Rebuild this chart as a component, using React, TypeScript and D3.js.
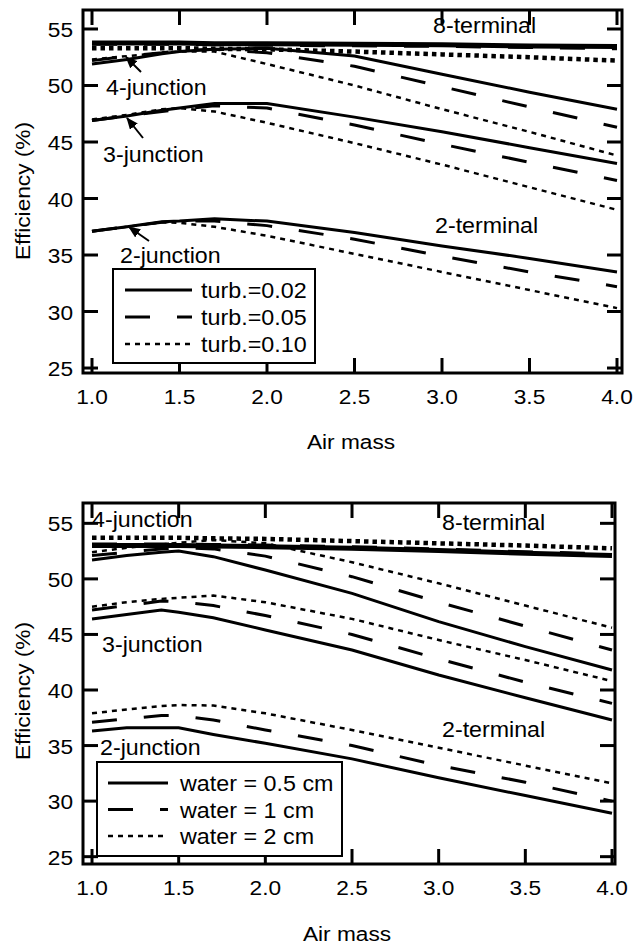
import React from "react";
import * as d3 from "d3";

// air mass grid shared by all curves
const airMass = [1.0, 1.2, 1.4, 1.5, 1.7, 2.0, 2.5, 3.0, 3.5, 4.0];

// upper panel: turbidity
const j2Turb002 = [37.1, 37.5, 37.95, 38.0, 38.2, 38.0, 37.0, 35.8, 34.7, 33.5];
const j2Turb005 = [37.1, 37.5, 37.9, 38.0, 38.0, 37.6, 36.4, 34.9, 33.5, 32.2];
const j2Turb010 = [37.1, 37.5, 37.9, 37.85, 37.5, 36.7, 35.1, 33.5, 31.9, 30.3];
const j3Turb002 = [46.9, 47.3, 47.8, 48.0, 48.4, 48.4, 47.2, 45.9, 44.5, 43.1];
const j3Turb005 = [46.9, 47.3, 47.7, 47.9, 48.2, 48.0, 46.5, 44.8, 43.2, 41.6];
const j3Turb010 = [47.0, 47.4, 47.9, 48.0, 47.7, 46.7, 44.9, 43.0, 41.0, 39.0];
const j4Turb002 = [51.9, 52.3, 52.8, 53.0, 53.2, 53.3, 52.6, 51.0, 49.4, 47.9];
const j4Turb005 = [52.2, 52.6, 52.9, 53.1, 53.2, 52.9, 51.7, 49.9, 48.1, 46.3];
const j4Turb010 = [52.3, 52.6, 52.9, 53.0, 53.0, 51.9, 50.0, 47.9, 45.9, 43.8];
const t8Turb002 = [53.75, 53.75, 53.75, 53.75, 53.7, 53.7, 53.65, 53.6, 53.5, 53.45];
const t8Turb005 = [53.7, 53.7, 53.7, 53.7, 53.65, 53.6, 53.55, 53.5, 53.4, 53.3];
const t8Turb010 = [53.3, 53.3, 53.3, 53.3, 53.25, 53.2, 53.0, 52.75, 52.5, 52.2];

// lower panel: precipitable water
const j2Water05 = [36.3, 36.6, 36.6, 36.6, 36.0, 35.2, 33.8, 32.1, 30.5, 28.9];
const j2Water1 = [37.1, 37.4, 37.7, 37.7, 37.3, 36.4, 35.0, 33.2, 31.7, 30.0];
const j2Water2 = [37.9, 38.25, 38.55, 38.65, 38.6, 37.9, 36.4, 34.8, 33.2, 31.6];
const j3Water05 = [46.4, 46.8, 47.2, 47.0, 46.5, 45.4, 43.6, 41.35, 39.3, 37.3];
const j3Water1 = [47.2, 47.6, 48.0, 47.95, 47.6, 46.7, 45.0, 42.8, 40.7, 38.8];
const j3Water2 = [47.5, 47.9, 48.2, 48.3, 48.5, 47.9, 46.4, 44.5, 42.7, 40.8];
const j4Water05 = [51.7, 52.1, 52.4, 52.5, 52.0, 50.8, 48.7, 46.15, 43.9, 41.8];
const j4Water1 = [52.1, 52.4, 52.7, 52.8, 52.7, 52.05, 50.2, 47.9, 45.75, 43.6];
const j4Water2 = [52.4, 52.8, 53.1, 53.25, 53.5, 53.2, 51.5, 49.6, 47.6, 45.6];
const t8Water05 = [53.0, 53.0, 53.0, 53.0, 52.95, 52.9, 52.75, 52.55, 52.3, 52.1];
const t8Water1 = [53.1, 53.1, 53.1, 53.1, 53.05, 53.0, 52.85, 52.65, 52.4, 52.2];
const t8Water2 = [53.7, 53.7, 53.7, 53.7, 53.65, 53.6, 53.4, 53.2, 53.0, 52.75];

const xTicks = [1.0, 1.5, 2.0, 2.5, 3.0, 3.5, 4.0];
const yTicks = [25, 30, 35, 40, 45, 50, 55];
const turbLabels = ["turb.=0.02", "turb.=0.05", "turb.=0.10"];
const waterLabels = ["water = 0.5 cm", "water = 1 cm", "water = 2 cm"];

const FONT = "'Liberation Sans', Arial, Helvetica, sans-serif";
const DASH = ["none", "25 27", "5 5"];
const WIDTH = [3, 3, 2.5];

function T({ x, y, size = 21, anchor = "start", rotate = 0, sx = 1.08, children }) {
  return (
    <text
      transform={`translate(${x},${y}) rotate(${rotate}) scale(${sx},1)`}
      fontFamily={FONT}
      fontSize={size}
      textAnchor={anchor}
      fill="#000"
    >
      {children}
    </text>
  );
}

function Panel({ frame, xDomain, yDomain, groups, thick, labels, arrows, legend, legendLabels, tickLabelY, titleY, titleX, yTitleY }) {
  const x = d3.scaleLinear().domain(xDomain).range([frame.left, frame.right]);
  const y = d3.scaleLinear().domain(yDomain).range([frame.bottom, frame.top]);
  const line = d3
    .line<number>()
    .x((d, i) => x(airMass[i]))
    .y((d) => y(d));
  const tick = 15;

  return (
    <g>
      {groups.map((g, gi) =>
        g.map((vals, k) => (
          <path
            key={`c${gi}-${k}`}
            d={line(vals) || ""}
            fill="none"
            stroke="#000"
            strokeWidth={WIDTH[k]}
            strokeDasharray={DASH[k]}
          />
        ))
      )}
      {/* 8-terminal: thick lines, dotted first, solid on top */}
      <path d={line(thick[2]) || ""} fill="none" stroke="#000" strokeWidth={4.5} strokeDasharray="4.5 4" />
      <path d={line(thick[1]) || ""} fill="none" stroke="#000" strokeWidth={4} strokeDasharray="25 27" />
      <path d={line(thick[0]) || ""} fill="none" stroke="#000" strokeWidth={5} />

      {labels.map((l, i) => (
        <g key={`l${i}`}>
          {l.bg && <rect x={l.x - 2} y={l.y - 17} width={l.bg} height={22} fill="#fff" />}
          <T x={l.x} y={l.y} size={21.5}>
            {l.text}
          </T>
        </g>
      ))}
      {arrows.map((a, i) => (
        <line
          key={`a${i}`}
          x1={a[0]}
          y1={a[1]}
          x2={a[2]}
          y2={a[3]}
          stroke="#000"
          strokeWidth={2}
          markerEnd="url(#head)"
        />
      ))}

      {/* frame and inward ticks on all sides */}
      <rect
        x={frame.left}
        y={frame.top}
        width={frame.right - frame.left}
        height={frame.bottom - frame.top}
        fill="none"
        stroke="#000"
        strokeWidth={3}
      />
      {xTicks.map((t) => (
        <g key={`xt${t}`}>
          <line x1={x(t)} x2={x(t)} y1={frame.bottom} y2={frame.bottom - tick} stroke="#000" strokeWidth={3} />
          <line x1={x(t)} x2={x(t)} y1={frame.top} y2={frame.top + tick} stroke="#000" strokeWidth={3} />
          <T x={x(t)} y={tickLabelY} anchor="middle">
            {d3.format(".1f")(t)}
          </T>
        </g>
      ))}
      {yTicks.map((t) => (
        <g key={`yt${t}`}>
          <line x1={frame.left} x2={frame.left + tick} y1={y(t)} y2={y(t)} stroke="#000" strokeWidth={3} />
          <line x1={frame.right} x2={frame.right - tick} y1={y(t)} y2={y(t)} stroke="#000" strokeWidth={3} />
          <T x={73} y={y(t) + 8} anchor="end">
            {t}
          </T>
        </g>
      ))}

      {/* legend */}
      <rect
        x={legend.x}
        y={legend.y}
        width={legend.w}
        height={legend.h}
        fill="#fff"
        stroke="#000"
        strokeWidth={2}
      />
      {legendLabels.map((lab, k) => {
        const ry = legend.y + legend.row0 + k * legend.step;
        return (
          <g key={`lg${k}`}>
            <line
              x1={legend.x + legend.s0}
              x2={legend.x + legend.s1}
              y1={ry}
              y2={ry}
              stroke="#000"
              strokeWidth={WIDTH[k]}
              strokeDasharray={DASH[k]}
            />
            <T x={legend.x + legend.tx} y={ry + 8} size={22} sx={1.06}>
              {lab}
            </T>
          </g>
        );
      })}

      <T x={titleX} y={titleY} anchor="middle">
        Air mass
      </T>
      <T x={30} y={yTitleY} anchor="middle" rotate={-90}>
        Efficiency (%)
      </T>
    </g>
  );
}

export default function App() {
  return (
    <svg
      width={641}
      height={946}
      style={{ position: "absolute", left: 0, top: 0, background: "#fff" }}
    >
      <defs>
        <marker
          id="head"
          markerUnits="userSpaceOnUse"
          viewBox="0 0 12 10"
          refX={11}
          refY={5}
          markerWidth={12}
          markerHeight={10}
          orient="auto"
        >
          <path d="M0,0 L12,5 L0,10 z" fill="#000" />
        </marker>
      </defs>
      <rect width={641} height={946} fill="#fff" />
      <Panel
        frame={{ left: 83, right: 622, top: 10, bottom: 373 }}
        xDomain={[0.9486, 4.0286]}
        yDomain={[24.56, 56.68]}
        groups={[
          [j2Turb002, j2Turb005, j2Turb010],
          [j3Turb002, j3Turb005, j3Turb010],
          [j4Turb002, j4Turb005, j4Turb010],
        ]}
        thick={[t8Turb002, t8Turb005, t8Turb010]}
        labels={[
          { text: "8-terminal", x: 433, y: 33 },
          { text: "4-junction", x: 106, y: 95 },
          { text: "3-junction", x: 103, y: 162 },
          { text: "2-junction", x: 120, y: 263 },
          { text: "2-terminal", x: 435, y: 233 },
        ]}
        arrows={[
          [141, 72, 126, 57],
          [143, 138, 127, 118],
          [149, 241, 129, 227],
        ]}
        legend={{ x: 113, y: 269, w: 202, h: 94, row0: 21, step: 27, s0: 12, s1: 79, tx: 88 }}
        legendLabels={turbLabels}
        tickLabelY={404}
        titleX={351}
        titleY={449}
        yTitleY={191}
      />
      <Panel
        frame={{ left: 83, right: 615, top: 503, bottom: 864 }}
        xDomain={[0.948, 4.0173]}
        yDomain={[24.34, 56.83]}
        groups={[
          [j2Water05, j2Water1, j2Water2],
          [j3Water05, j3Water1, j3Water2],
          [j4Water05, j4Water1, j4Water2],
        ]}
        thick={[t8Water05, t8Water1, t8Water2]}
        labels={[
          { text: "4-junction", x: 92, y: 527 },
          { text: "8-terminal", x: 442, y: 530 },
          { text: "3-junction", x: 102, y: 652 },
          { text: "2-junction", x: 100, y: 755 },
          { text: "2-terminal", x: 442, y: 737 },
        ]}
        arrows={[]}
        legend={{ x: 97, y: 762, w: 245, h: 94, row0: 21, step: 26.5, s0: 11, s1: 71, tx: 83 }}
        legendLabels={waterLabels}
        tickLabelY={895}
        titleX={347}
        titleY={941}
        yTitleY={691}
      />
    </svg>
  );
}
